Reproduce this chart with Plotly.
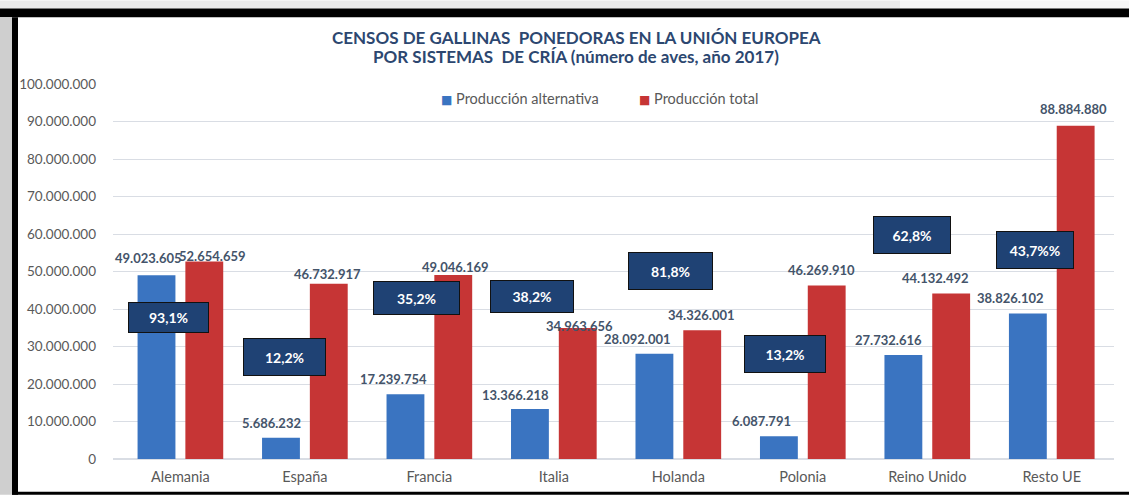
import plotly.graph_objects as go

# ---------------- data ----------------
categories = ["Alemania", "España", "Francia", "Italia", "Holanda", "Polonia", "Reino Unido", "Resto UE"]
alternativa = [49023605, 5686232, 17239754, 13366218, 28092001, 6087791, 27732616, 38826102]
total = [52654659, 46732917, 49046169, 34963656, 34326001, 46269910, 44132492, 88884880]
pct_labels = ["93,1%", "12,2%", "35,2%", "38,2%", "81,8%", "13,2%", "62,8%", "43,7%%"]
series_names = ["Producción alternativa", "Producción total"]
title_lines = ["CENSOS DE GALLINAS  PONEDORAS EN LA UNIÓN EUROPEA",
               "POR SISTEMAS  DE CRÍA (número de aves, año 2017)"]
y_ticks = list(range(0, 100_000_001, 10_000_000))

# ---------------- styling / label placement (pixels, not data) ----------------
W, H = 1129, 497
ML, MR, MT, MB = 113, 15, 84, 36
PW, PH = W - ML - MR, H - MT - MB

C_ALT = "#3a74c1"
C_TOT = "#c63535"
C_BOX = "#1f4274"
C_LABEL = "#44546a"
C_TICK = "#595959"
C_GRID = "#d9dde4"
C_TITLE = "#2c4770"
FONT = "Lato"

alt_dx = [-8, -9, -12, -14, -17, -17, -15, -17]
alt_dy = [17, 15, 15, 14, 15, 15, 15, 15]
tot_dx = [8, -1, 2, 2, -1, -5, -16, -2]
tot_dy = [6, 10, 8, 2, 15, 15, 16, 17]

# percentage boxes: center offset from category center (px), center value, size (px)
box_dx = [-12, -20, -13, -22, -8, -18, -15, -17]
box_val = [37.8e6, 27.3e6, 43.0e6, 43.4e6, 50.1e6, 27.9e6, 59.7e6, 55.7e6]
box_w = [81, 83, 87, 84, 85, 82, 78, 78]
box_h = [31, 38, 34, 33, 38, 38, 38, 38]

BAR_OFF = 0.192  # half slot, category units


def fmt(v):
    return f"{v:,}".replace(",", ".")


def px_x(p):
    return (p - ML) / PW


def px_y(p):
    return (H - MB - p) / PH


fig = go.Figure()
fig.add_trace(go.Bar(name=series_names[0], x=categories, y=alternativa, showlegend=False,
                     marker=dict(color=C_ALT, line=dict(width=0))))
fig.add_trace(go.Bar(name=series_names[1], x=categories, y=total, showlegend=False,
                     marker=dict(color=C_TOT, line=dict(width=0))))

annotations = []
for i, (a, t) in enumerate(zip(alternativa, total)):
    annotations.append(dict(x=i - BAR_OFF, y=a, xref="x", yref="y", text=fmt(a), showarrow=False,
                            xshift=alt_dx[i], yshift=alt_dy[i], yanchor="middle",
                            font=dict(family=FONT, size=13, color=C_LABEL, weight="bold")))
    annotations.append(dict(x=i + BAR_OFF, y=t, xref="x", yref="y", text=fmt(t), showarrow=False,
                            xshift=tot_dx[i], yshift=tot_dy[i], yanchor="middle",
                            font=dict(family=FONT, size=13, color=C_LABEL, weight="bold")))
    annotations.append(dict(x=i, y=box_val[i], xref="x", yref="y", text=pct_labels[i], showarrow=False,
                            xshift=box_dx[i], yanchor="middle", xanchor="center",
                            width=box_w[i] - 2, height=box_h[i] - 2, borderpad=0,
                            bgcolor=C_BOX, bordercolor="#111111", borderwidth=1,
                            align="center", valign="middle",
                            font=dict(family=FONT, size=14, color="white", weight="bold")))

# title (two lines, tight spacing like the original)
for line, ypx in zip(title_lines, [37, 56]):
    annotations.append(dict(x=px_x(576), y=px_y(ypx), xref="paper", yref="paper", text=line,
                            showarrow=False, xanchor="center", yanchor="middle",
                            font=dict(family=FONT, size=17, color=C_TITLE, weight="bold")))

# legend (small square markers like the original)
for name, col, xpx in zip(series_names, [C_ALT, C_TOT], [439, 637]):
    annotations.append(dict(x=px_x(xpx), y=px_y(99), xref="paper", yref="paper",
                            text=f'<span style="color:{col};font-family:DejaVu Sans;font-size:12px">■</span> {name}',
                            showarrow=False, xanchor="left", yanchor="middle",
                            font=dict(family=FONT, size=14.5, color=C_TICK)))

shapes = [
    dict(type="rect", xref="paper", yref="paper", x0=px_x(0), x1=px_x(900), y0=px_y(0), y1=px_y(8),
         fillcolor="#eaeaea", line=dict(width=0), layer="above"),
    dict(type="rect", xref="paper", yref="paper", x0=px_x(900), x1=px_x(W), y0=px_y(0), y1=px_y(8),
         fillcolor="#f7f7f7", line=dict(width=0), layer="above"),
    dict(type="rect", xref="paper", yref="paper", x0=px_x(0), x1=px_x(W), y0=px_y(8), y1=px_y(17),
         fillcolor="#000000", line=dict(width=0), layer="above"),
    dict(type="rect", xref="paper", yref="paper", x0=px_x(0), x1=px_x(12), y0=px_y(17), y1=px_y(H),
         fillcolor="#cfcfcf", line=dict(width=0), layer="above"),
    dict(type="rect", xref="paper", yref="paper", x0=px_x(12), x1=px_x(18), y0=px_y(17), y1=px_y(H),
         fillcolor="#000000", line=dict(width=0), layer="above"),
    dict(type="rect", xref="paper", yref="paper", x0=px_x(12), x1=px_x(W), y0=px_y(494), y1=px_y(H),
         fillcolor="#000000", line=dict(width=0), layer="above"),
]

fig.update_layout(
    width=W, height=H,
    margin=dict(l=ML, r=MR, t=MT, b=MB, pad=0),
    paper_bgcolor="white", plot_bgcolor="white",
    separators=",.",
    barmode="group", bargap=0.232, bargroupgap=0.208,
    font=dict(family=FONT, color=C_TICK),
    showlegend=False,
    xaxis=dict(type="category", showgrid=False, showline=True, linecolor=C_GRID, linewidth=1,
               ticks="", tickfont=dict(family=FONT, size=14.5, color=C_TICK), ticklabelstandoff=5),
    yaxis=dict(range=[0, 100_000_000], tickvals=y_ticks, tickformat=",d", showgrid=True,
               gridcolor=C_GRID, gridwidth=1, zeroline=True, zerolinecolor=C_GRID, showline=False,
               ticks="", tickfont=dict(family=FONT, size=13.5, color=C_TICK), ticklabelstandoff=16),
    annotations=annotations,
    shapes=shapes,
)

fig.write_html("out.html", config={"displayModeBar": False},
               post_script="document.body.style.margin='0';document.body.style.overflow='hidden';")
